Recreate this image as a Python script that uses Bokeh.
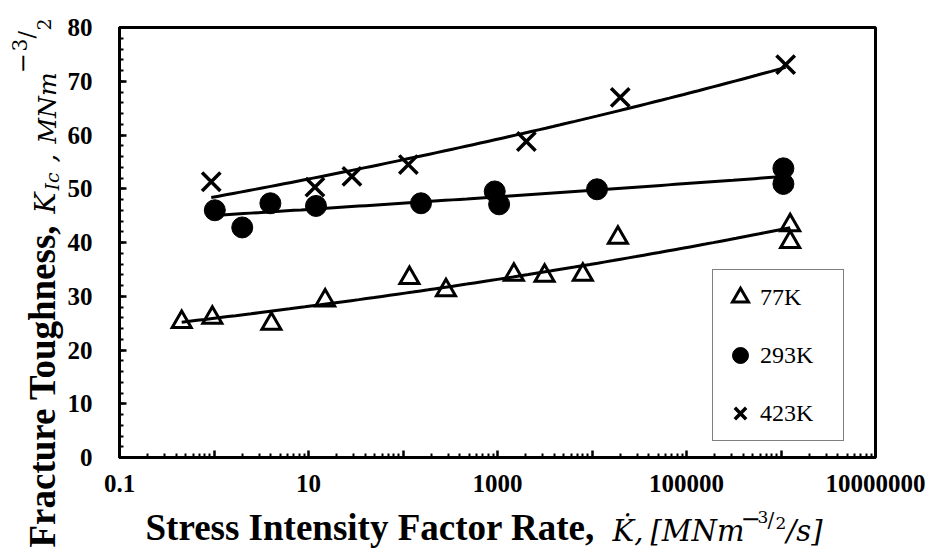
import numpy as np
from bokeh.plotting import figure
from bokeh.layouts import row, column
from bokeh.models import Range1d, FixedTicker, Label, Legend, LegendItem
from bokeh.embed import file_html
from bokeh.resources import INLINE

# ---------------- data ----------------
x_77 = [0.455, 0.96, 4.05, 15.0, 117, 285, 1490, 3150, 8000, 18800, 1.25e6, 1.25e6]
y_77 = [25.2, 26.0, 24.9, 29.2, 33.4, 31.1, 34.0, 33.8, 34.0, 40.9, 43.2, 40.1]

x_293 = [1.02, 1.99, 3.95, 12.0, 155, 935, 1040, 11300, 1.06e6, 1.06e6]
y_293 = [46.0, 42.8, 47.3, 46.8, 47.3, 49.5, 47.1, 49.9, 53.8, 50.9]

x_423 = [0.935, 11.7, 28.8, 114, 2020, 19900, 1.12e6]
y_423 = [51.3, 50.3, 52.3, 54.5, 58.8, 67.0, 73.1]

series_names = ["77K", "293K", "423K"]

x_ticks = [0.1, 1, 10, 100, 1000, 10000, 100000, 1000000, 10000000]
x_tick_labels = ["0.1", "", "10", "", "1000", "", "100000", "", "10000000"]
y_ticks = [0, 10, 20, 30, 40, 50, 60, 70, 80]

SERIF = "Liberation Serif"
MATH = "DejaVu Serif"

W, H = 932, 552
LEFT_W = 64          # strip holding the y title
MAIN_H = 505         # main chart height
FL, FT, FR, FB = 117, 27, 875, 457   # frame edges in page pixels

# ---------------- main figure ----------------
p = figure(width=W - LEFT_W, height=MAIN_H, x_axis_type="log",
           x_range=Range1d(0.1, 1e7), y_range=Range1d(0, 80),
           output_backend="svg", toolbar_location=None,
           min_border_left=FL - LEFT_W, min_border_right=W - FR,
           min_border_top=FT, min_border_bottom=MAIN_H - FB)
p.grid.visible = False
p.outline_line_color = "black"
p.outline_line_width = 3
p.background_fill_color = "white"
p.border_fill_color = "white"

minor_x = [m * 10.0 ** e for e in range(-1, 7) for m in range(2, 10)]
p.xaxis.ticker = FixedTicker(ticks=x_ticks, minor_ticks=minor_x)
overrides = {}
for t, lab in zip(x_ticks, x_tick_labels):
    overrides[t] = lab
    overrides[str(t)] = lab
p.xaxis.major_label_overrides = overrides
p.yaxis.ticker = FixedTicker(ticks=y_ticks, minor_ticks=list(range(0, 81, 2)))

for ax in (p.xaxis[0], p.yaxis[0]):
    ax.axis_line_color = "black"
    ax.axis_line_width = 3
    ax.major_tick_line_color = "black"
    ax.major_tick_line_width = 2.5
    ax.minor_tick_line_color = "black"
    ax.minor_tick_line_width = 2
    ax.major_tick_in = 7
    ax.major_tick_out = 0
    ax.minor_tick_in = 4
    ax.minor_tick_out = 0
    ax.major_label_text_font = SERIF
    ax.major_label_text_font_style = "bold"
    ax.major_label_text_font_size = "25px"
    ax.major_label_text_color = "black"
p.xaxis.major_label_standoff = 17
p.yaxis.major_label_standoff = 27

# ---------------- markers ----------------
r77 = p.scatter(x_77, y_77, marker="triangle", size=19, fill_color="white",
                line_color="black", line_width=3, line_join="miter")
r293 = p.scatter(x_293, y_293, marker="circle", size=21, fill_color="black",
                 line_color="black", line_width=1)
r423 = p.scatter(x_423, y_423, marker="x", size=26, line_color="black", line_width=3.5)

# ---------------- power trend lines (fitted from the points) ----------------
def power_trend(xs, ys, n=80):
    b, a = np.polyfit(np.log(xs), np.log(ys), 1)
    xf = np.logspace(np.log10(min(xs)), np.log10(max(xs)), n)
    return xf, np.exp(a) * xf ** b

for xs, ys in ((x_77, y_77), (x_293, y_293), (x_423, y_423)):
    xf, yf = power_trend(xs, ys)
    p.line(xf, yf, line_color="black", line_width=3)

# ---------------- legend ----------------
legend = Legend(items=[LegendItem(label=n, renderers=[r]) for n, r in zip(series_names, (r77, r293, r423))],
                location=(710 - FL, FB - 441), orientation="vertical",
                glyph_width=40, glyph_height=40, label_standoff=0, label_width=76,
                spacing=18, padding=7, margin=0,
                border_line_color="black", border_line_width=1.5,
                background_fill_color="white", background_fill_alpha=1,
                label_text_font=SERIF, label_text_font_size="24px", label_text_color="black")
p.add_layout(legend)

# ---------------- title strips ----------------
def blank_fig(w, h):
    f = figure(width=w, height=h, x_range=Range1d(0, w), y_range=Range1d(0, h),
               output_backend="svg", toolbar_location=None,
               x_axis_location=None, y_axis_location=None, min_border=0)
    f.center = []
    f.outline_line_color = None
    f.background_fill_color = "white"
    f.border_fill_color = "white"
    return f

left = blank_fig(LEFT_W, H)
bottom = blank_fig(W - LEFT_W, H - MAIN_H)

MID = 0.34  # text box centre above baseline, in em

def htext(txt, px, py, size, font=MATH, style="italic"):
    # px: left edge, py: baseline (page pixels); frame of strip is aligned with main frame
    bottom.add_layout(Label(x=px - FL, y=H - (py - MID * size), x_units="screen", y_units="screen",
                            text=txt, text_font=font, text_font_style=style,
                            text_font_size=f"{size}px", text_color="black",
                            text_baseline="middle", text_align="left"))

def vtext(txt, px, py, size, font=MATH, style="italic"):
    # px: baseline x, py: start (bottom) y, page pixels; reads upward
    left.add_layout(Label(x=px - MID * size, y=H - py, x_units="screen", y_units="screen",
                          text=txt, angle=np.pi / 2, text_font=font, text_font_style=style,
                          text_font_size=f"{size}px", text_color="black",
                          text_baseline="middle", text_align="left"))

# x title
bx = 540
htext("Stress Intensity Factor Rate,", 143, bx, 37, SERIF, "bold")
htext("K\u0307,", 610, bx, 29)
htext("[MNm", 648, bx, 29)
htext("\u2212", 738, bx - 14, 24, MATH, "normal")
htext("3", 755, bx - 18, 17, MATH, "normal")
htext("/", 765, bx - 14, 20, MATH, "normal")
htext("2", 773, bx - 12, 17, MATH, "normal")
htext("/s]", 784, bx, 29)

# y title (rotated, reading upward)
by = 55
vtext("Fracture Toughness,", by, 547, 37, SERIF, "bold")
vtext("K", by, 213, 28)
vtext("Ic", by + 3, 190, 19)
vtext(",", by, 162, 28)
vtext("MNm", by, 143, 25)
vtext("\u2212", by - 25, 73, 24, MATH, "normal")
vtext("3", by - 29, 51, 20, MATH, "normal")
vtext("/", by - 22, 38, 22, MATH, "normal")
vtext("2", by - 5, 30, 19, MATH, "normal")

layout = row(left, column(p, bottom, spacing=0), spacing=0)
open("out.html", "w").write(file_html(layout, INLINE))
